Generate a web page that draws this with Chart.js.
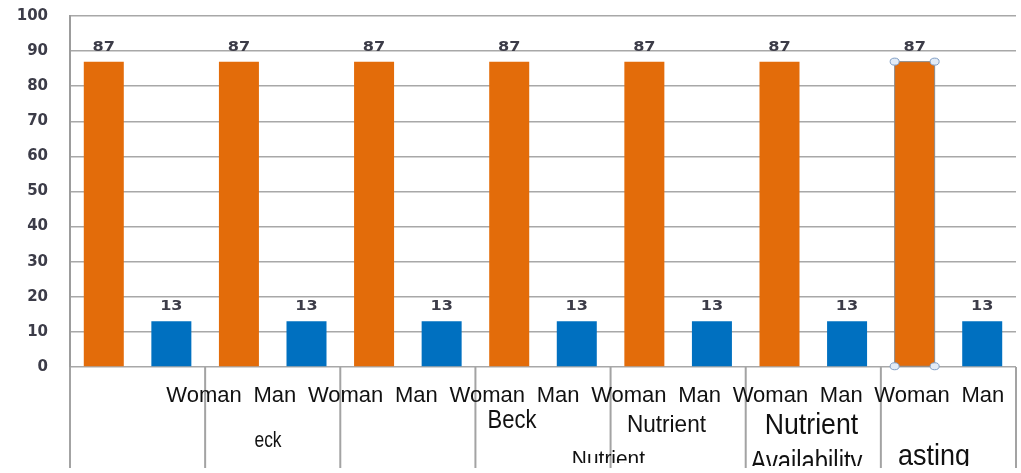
<!DOCTYPE html>
<html>
<head>
<meta charset="utf-8">
<title>Woman / Man</title>
<script src="https://cdn.jsdelivr.net/npm/chart.js@4.4.1/dist/chart.umd.min.js"></script>
<style>
  html, body { margin: 0; padding: 0; background: #ffffff; }
  #wrap { position: relative; width: 1021px; height: 468px; }
</style>
</head>
<body>
<div id="wrap"><canvas id="chart"></canvas></div>
<script>
// ---- data ----
const seriesNames = ['Woman', 'Man'];
const womanValues = [87, 87, 87, 87, 87, 87, 87];
const manValues   = [13, 13, 13, 13, 13, 13, 13];
const yTicks = [0, 10, 20, 30, 40, 50, 60, 70, 80, 90, 100];
const rowLabels = ['Woman', 'Man', 'Woman', 'Man', 'Woman', 'Man',
                   'Woman', 'Man', 'Woman', 'Man', 'Woman', 'Man'];
const groupLabels = ['eck', 'Beck', 'Nutrient', 'Nutrient', 'Nutrient', 'Availability', 'asting'];

// one category per bar: Woman, Man, Woman, Man, ...
const categories = womanValues.flatMap(() => seriesNames);
const womanData = categories.map((c, i) => (i % 2 === 0 ? womanValues[i / 2] : null));
const manData   = categories.map((c, i) => (i % 2 === 1 ? manValues[(i - 1) / 2] : null));
const groupCount = womanValues.length;
const selected = { dataset: 0, index: categories.length - 2 };

// ---- styling of the label table under the axis ----
const rowStyle = { start: 0.1417, step: 0.07484, dy: 35, size: 22 };
const groupStyle = [
  { fx: 0.2093, dy: 80,  size: 22, sx: 0.79 },
  { fx: 0.4672, dy: 61,  size: 25, sx: 0.88 },
  { fx: 0.6305, dy: 65,  size: 24, sx: 0.94 },
  { fx: 0.5692, dy: 99,  size: 22, sx: 0.95, clip: 463 },
  { fx: 0.7838, dy: 67,  size: 29, sx: 0.92 },
  { fx: 0.7785, dy: 104, size: 29, sx: 0.82 },
  { fx: 0.9133, dy: 98,  size: 29, sx: 0.93 }
];
const textFloor = 466;

function drawScaledText(ctx, text, x, y, sx) {
  ctx.save();
  ctx.translate(x, y);
  ctx.scale(sx, 1);
  ctx.fillText(text, 0, 0);
  ctx.restore();
}

const axisTable = {
  id: 'axisTable',
  afterDraw(chart) {
    const { ctx, chartArea: a, scales: { x } } = chart;
    const w = a.right - a.left;
    ctx.save();

    // vertical separators between the groups
    const edges = [a.left];
    for (let g = 1; g < groupCount; g++) {
      edges.push((x.getPixelForValue(2 * g - 1) + x.getPixelForValue(2 * g)) / 2);
    }
    edges.push(a.right);
    ctx.strokeStyle = '#a3a3a3';
    ctx.lineWidth = 2;
    ctx.beginPath();
    edges.forEach(e => { ctx.moveTo(e, a.bottom); ctx.lineTo(e, chart.height); });
    ctx.stroke();

    ctx.fillStyle = '#111111';
    ctx.textAlign = 'center';
    ctx.textBaseline = 'alphabetic';

    ctx.save();
    ctx.beginPath();
    ctx.rect(0, a.bottom, chart.width, textFloor - a.bottom);
    ctx.clip();

    // first row: Woman / Man
    ctx.font = rowStyle.size + 'px "Liberation Sans", Arial, sans-serif';
    rowLabels.forEach((t, i) => {
      const px = a.left + w * (rowStyle.start + rowStyle.step * i);
      ctx.fillText(t, px, a.bottom + rowStyle.dy);
    });

    // second level labels
    groupLabels.forEach((t, i) => {
      const s = groupStyle[i];
      ctx.save();
      if (s.clip) {
        ctx.beginPath();
        ctx.rect(0, a.bottom, chart.width, s.clip - a.bottom);
        ctx.clip();
      }
      ctx.font = s.size + 'px "Liberation Sans", Arial, sans-serif';
      drawScaledText(ctx, t, a.left + w * s.fx, a.bottom + s.dy, s.sx);
      ctx.restore();
    });
    ctx.restore();
    ctx.restore();
  }
};

const barValues = {
  id: 'barValues',
  afterDatasetsDraw(chart) {
    const { ctx } = chart;
    ctx.save();
    ctx.fillStyle = '#3c3c48';
    ctx.font = 'bold 14px "DejaVu Sans", sans-serif';
    ctx.textAlign = 'center';
    ctx.textBaseline = 'alphabetic';
    chart.data.datasets.forEach((ds, di) => {
      chart.getDatasetMeta(di).data.forEach((el, i) => {
        const v = ds.data[i];
        if (v === null || v === undefined) return;
        drawScaledText(ctx, String(v), el.x, el.y - 11, 1.15);
      });
    });

    // selection handles on one bar
    const el = chart.getDatasetMeta(selected.dataset).data[selected.index];
    if (el) {
      const l = el.x - el.width / 2, r = el.x + el.width / 2;
      ctx.strokeStyle = '#8a8a8a';
      ctx.lineWidth = 1;
      ctx.strokeRect(l, el.y, r - l, el.base - el.y);
      ctx.fillStyle = '#e2ebf6';
      ctx.strokeStyle = '#7f9dc4';
      [[l, el.y], [r, el.y], [l, el.base], [r, el.base]].forEach(([cx, cy]) => {
        ctx.beginPath();
        ctx.ellipse(cx, cy, 4.5, 3.5, 0, 0, Math.PI * 2);
        ctx.fill();
        ctx.stroke();
      });
    }
    ctx.restore();
  }
};

new Chart(document.getElementById('chart'), {
  type: 'bar',
  data: {
    labels: categories,
    datasets: [
      { label: seriesNames[0], data: womanData, backgroundColor: '#e36c0a',
        grouped: false, barPercentage: 0.592, categoryPercentage: 1 },
      { label: seriesNames[1], data: manData, backgroundColor: '#0070c0',
        grouped: false, barPercentage: 0.592, categoryPercentage: 1 }
    ]
  },
  options: {
    responsive: true,
    maintainAspectRatio: false,
    animation: false,
    events: [],
    layout: { padding: { top: 16, right: 5, left: 0, bottom: 0 } },
    plugins: { legend: { display: false }, tooltip: { enabled: false } },
    scales: {
      x: {
        type: 'category',
        offset: true,
        grid: { display: false },
        border: { display: false },
        ticks: { display: false },
        afterFit: s => { s.height = 101; }
      },
      y: {
        min: 0,
        max: 100,
        afterBuildTicks: s => { s.ticks = yTicks.map(v => ({ value: v })); },
        ticks: {
          padding: 22,
          color: '#3c3c48',
          font: { family: '"DejaVu Sans", sans-serif', size: 15, weight: 'bold' }
        },
        grid: { color: '#a8a8a8', lineWidth: 1.5, drawTicks: false },
        border: { display: true, color: '#9c9c9c', width: 2 },
        afterFit: s => {
          s.width = 70;
          // only the half label height is needed above and below the axis
          s.paddingTop = 9;
          s.paddingBottom = 9;
        }
      }
    }
  },
  plugins: [barValues, axisTable]
});
</script>
</body>
</html>
